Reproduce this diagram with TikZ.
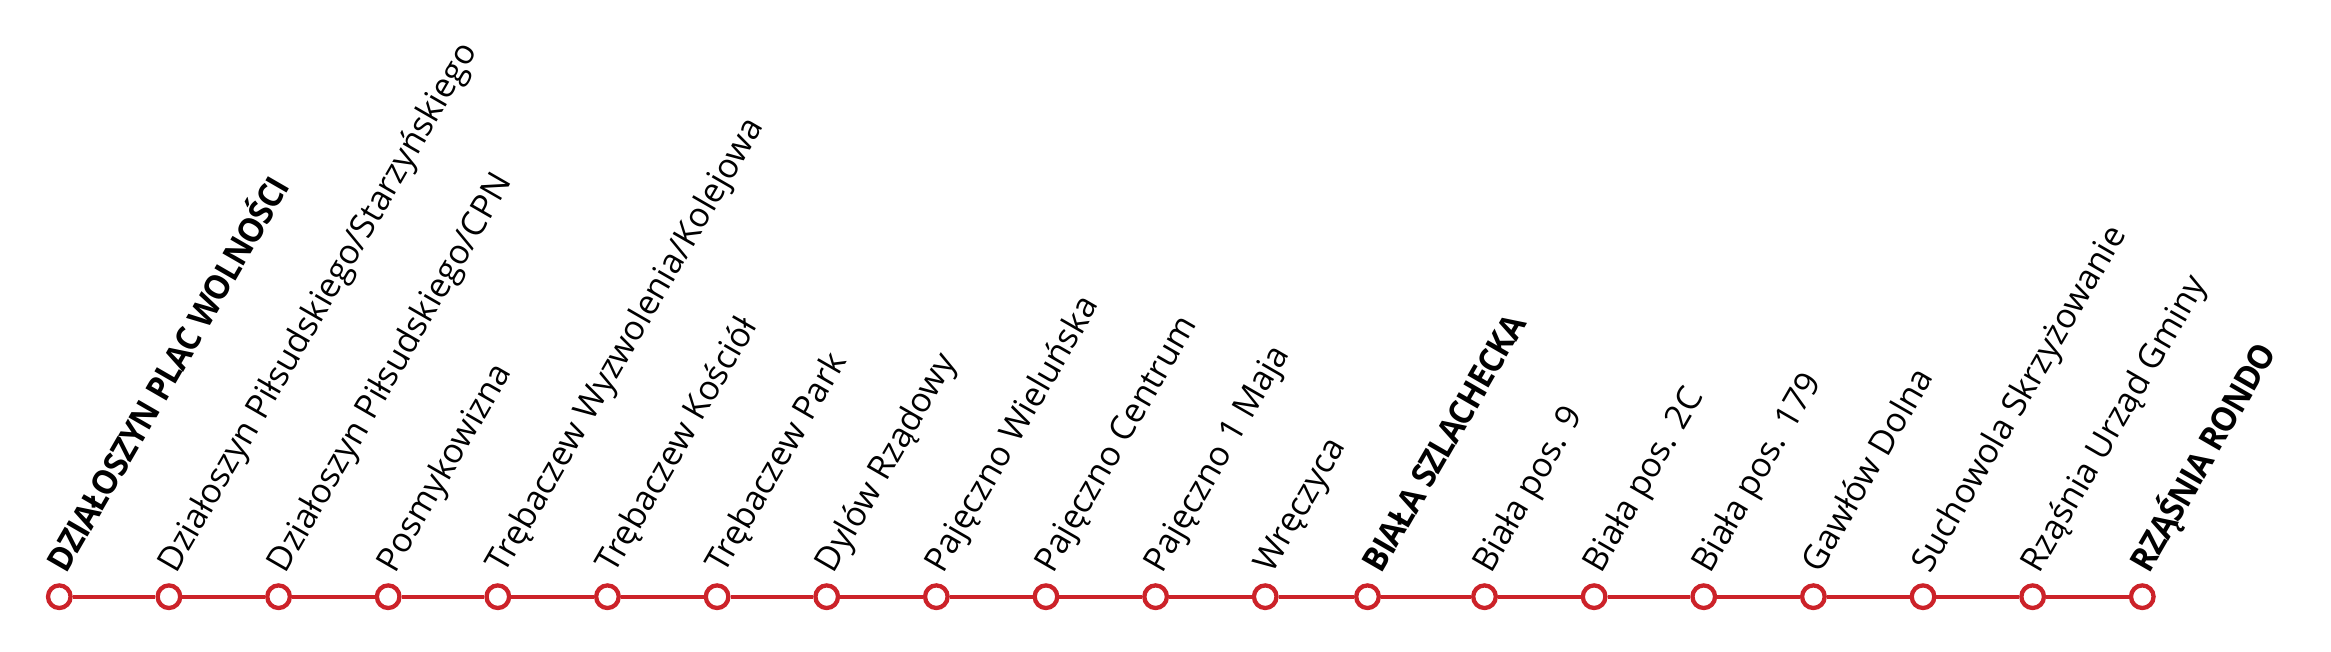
\documentclass[tikz,border=0pt]{standalone}
\usepackage{fontspec}
\setmainfont{Open Sans}
\newfontfamily\boldlbl[FakeStretch=0.94,LetterSpace=-3]{Open Sans Bold}
\definecolor{linered}{RGB}{204,34,41}
\begin{document}
\begin{tikzpicture}[x=1pt,y=-1pt,
  stn/.style={circle,draw=linered,fill=white,line width=4.3pt,minimum size=22.6pt,inner sep=0pt},
  lbl/.style={anchor=base west,rotate=60,inner sep=0pt,font=\fontsize{34}{40}\selectfont},
  track/.style={draw=linered,line width=4pt}]
\useasboundingbox (0,0) rectangle (2331,651);
\fill[white] (0,0) rectangle (2331,651);
\foreach \lab [count=\i from 0] in {%
  {\boldlbl DZIAŁOSZYN PLAC WOLNOŚCI},
  Działoszyn Piłsudskiego/Starzyńskiego,
  Działoszyn Piłsudskiego/CPN,
  Posmykowizna,
  Trębaczew Wyzwolenia/Kolejowa,
  Trębaczew Kościół,
  Trębaczew Park,
  Dylów Rządowy,
  Pajęczno Wieluńska,
  Pajęczno Centrum,
  Pajęczno 1 Maja,
  Wręczyca,
  {\boldlbl BIAŁA SZLACHECKA},
  Biała pos. 9,
  Biała pos. 2C,
  Biała pos. 179,
  Gawłów Dolna,
  Suchowola Skrzyżowanie,
  Rząśnia Urząd Gminy,
  {\boldlbl RZĄŚNIA RONDO}}{
  \pgfmathsetmacro\sx{59.3+109.63*\i}
  \node[lbl] (t\i) at (\sx+7,574.5) {\lab};
}
\foreach \i in {0,...,19}{
  \pgfmathsetmacro\cx{ifthenelse(\i==12,1367.5,59.3+109.63*\i)}
  \node[stn] (s\i) at (\cx,596.7) {};
}
\foreach \i [evaluate=\i as \j using int(\i+1)] in {0,...,18}
  \draw[track] (s\i) -- (s\j);
\end{tikzpicture}
\end{document}
